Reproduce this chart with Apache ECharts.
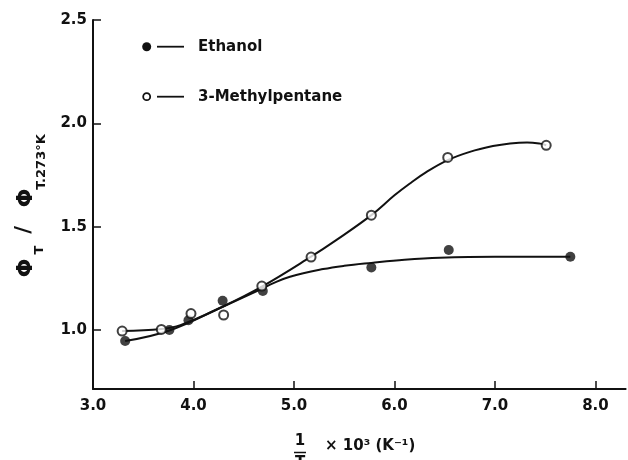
<!DOCTYPE html>
<html><head><meta charset="utf-8">
<script src="https://cdn.jsdelivr.net/npm/echarts@6/dist/echarts.min.js"></script>
<style>html,body{margin:0;padding:0;background:#fff}#c{width:628px;height:460px}</style>
</head><body><div id="c"></div>
<script>
// Measured data points
const ethanolX = [3.32, 3.76, 3.95, 4.29, 4.69, 5.77, 6.54, 7.75];
const ethanolY = [0.947, 1.00, 1.048, 1.142, 1.189, 1.303, 1.387, 1.355];
const mpX = [3.29, 3.68, 3.975, 4.30, 4.68, 5.17, 5.77, 6.53, 7.51];
const mpY = [0.995, 1.003, 1.08, 1.073, 1.213, 1.353, 1.556, 1.835, 1.894];
// Hand-drawn fit curves
const ethanolFitX = [3.32, 3.76, 4.29, 4.68, 4.79, 4.96, 5.29, 5.5, 5.77, 6.1, 6.45, 7.0, 7.75];
const ethanolFitY = [0.947, 0.998, 1.113, 1.20, 1.226, 1.258, 1.295, 1.311, 1.325, 1.340, 1.350, 1.355, 1.355];
const mpFitX = [3.29, 3.68, 3.87, 4.29, 4.68, 5.17, 5.42, 5.77, 6.0, 6.15, 6.32, 6.53, 6.75, 6.98, 7.15, 7.32, 7.45, 7.51];
const mpFitY = [0.995, 1.005, 1.024, 1.113, 1.21, 1.355, 1.435, 1.556, 1.652, 1.708, 1.765, 1.822, 1.862, 1.89, 1.903, 1.908, 1.902, 1.894];
// Ticks
const xTicks = [3, 4, 5, 6, 7, 8];
const yTicks = [1.0, 1.5, 2.0, 2.5];
const seriesNames = ['Ethanol', '3-Methylpentane'];

const zip = (xs, ys) => xs.map((x, i) => [x, ys[i]]);
const INK = '#111';
const FONT = 'DejaVu Sans';

const chart = echarts.init(document.getElementById('c'), null, {renderer: 'canvas'});
const axisCommon = {
  type: 'value',
  axisLine: {show: true, onZero: false, lineStyle: {color: INK, width: 2}},
  splitLine: {show: false},
};
chart.setOption({
  animation: false,
  backgroundColor: '#fff',
  grid: {left: 93, right: 2.4, top: 20, bottom: 71},
  xAxis: Object.assign({}, axisCommon, {
    min: 3, max: 8.3,
    axisTick: {show: true, inside: true, length: 8, lineStyle: {color: INK, width: 1.5}, customValues: xTicks.slice(1)},
    axisLabel: {customValues: xTicks, formatter: v => v.toFixed(1), margin: 10, fontSize: 15, fontWeight: 'bold', color: INK, fontFamily: FONT}
  }),
  yAxis: Object.assign({}, axisCommon, {
    min: 0.715, max: 2.5,
    axisTick: {show: true, inside: true, length: 8, lineStyle: {color: INK, width: 1.5}, customValues: yTicks},
    axisLabel: {customValues: yTicks, formatter: v => v.toFixed(1), margin: 6, fontSize: 15, fontWeight: 'bold', color: INK, fontFamily: FONT}
  }),
  series: [
    {type: 'line', name: seriesNames[0] + ' fit', data: zip(ethanolFitX, ethanolFitY), smooth: 0.4, showSymbol: false, lineStyle: {color: INK, width: 2}, z: 2},
    {type: 'line', name: seriesNames[1] + ' fit', data: zip(mpFitX, mpFitY), smooth: 0.4, showSymbol: false, lineStyle: {color: INK, width: 2}, z: 2},
    {type: 'scatter', name: seriesNames[0], data: zip(ethanolX, ethanolY), symbol: 'circle', symbolSize: 10, itemStyle: {color: INK}, z: 3},
    {type: 'scatter', name: seriesNames[1], data: zip(mpX, mpY), symbol: 'circle', symbolSize: 9, itemStyle: {color: '#fff', borderColor: INK, borderWidth: 2}, z: 4}
  ],
  graphic: [
    // legend
    {type: 'circle', shape: {cx: 146.7, cy: 46.7, r: 4.5}, style: {fill: INK}},
    {type: 'line', shape: {x1: 157, y1: 46.7, x2: 184, y2: 46.7}, style: {stroke: INK, lineWidth: 1.8}},
    {type: 'text', x: 198, y: 46.7, style: {text: seriesNames[0], fill: INK, font: 'bold 15px "DejaVu Sans"', textVerticalAlign: 'middle'}},
    {type: 'circle', shape: {cx: 146.7, cy: 96.7, r: 3.5}, style: {fill: '#fff', stroke: INK, lineWidth: 1.8}},
    {type: 'line', shape: {x1: 157, y1: 96.7, x2: 184, y2: 96.7}, style: {stroke: INK, lineWidth: 1.8}},
    {type: 'text', x: 198, y: 96.7, style: {text: seriesNames[1], fill: INK, font: 'bold 15px "DejaVu Sans"', textVerticalAlign: 'middle'}},
    // x axis title
    {type: 'text', x: 300, y: 441, style: {text: '1', fill: INK, font: 'bold 15px "DejaVu Sans"', textAlign: 'center', textVerticalAlign: 'middle'}},
    {type: 'line', shape: {x1: 294, y1: 452.5, x2: 306, y2: 452.5}, style: {stroke: INK, lineWidth: 1.5}},
    {type: 'text', x: 300, y: 463, style: {text: 'T', fill: INK, font: 'bold 15px "DejaVu Sans"', textAlign: 'center', textVerticalAlign: 'middle'}},
    {type: 'text', x: 325, y: 446, style: {text: '× 10³ (K⁻¹)', fill: INK, font: 'bold 15px "DejaVu Sans"', textAlign: 'left', textVerticalAlign: 'middle'}},
    // y axis title (rotated pieces)
    {type: 'text', x: 26, y: 268, rotation: Math.PI / 2, style: {text: 'Φ', fill: INK, font: 'bold 22px "DejaVu Sans"', textAlign: 'center', textVerticalAlign: 'middle'}},
    {type: 'text', x: 40, y: 250, rotation: Math.PI / 2, style: {text: 'T', fill: INK, font: 'bold 13px "DejaVu Sans"', textAlign: 'center', textVerticalAlign: 'middle'}},
    {type: 'text', x: 25, y: 230, rotation: Math.PI / 2, style: {text: '/', fill: INK, font: 'bold 21px "DejaVu Sans"', textAlign: 'center', textVerticalAlign: 'middle'}},
    {type: 'text', x: 26, y: 198, rotation: Math.PI / 2, style: {text: 'Φ', fill: INK, font: 'bold 22px "DejaVu Sans"', textAlign: 'center', textVerticalAlign: 'middle'}},
    {type: 'text', x: 42, y: 162, rotation: Math.PI / 2, style: {text: 'T.273°K', fill: INK, font: 'bold 13px "DejaVu Sans"', textAlign: 'center', textVerticalAlign: 'middle'}}
  ]
});
</script>
</body></html>
